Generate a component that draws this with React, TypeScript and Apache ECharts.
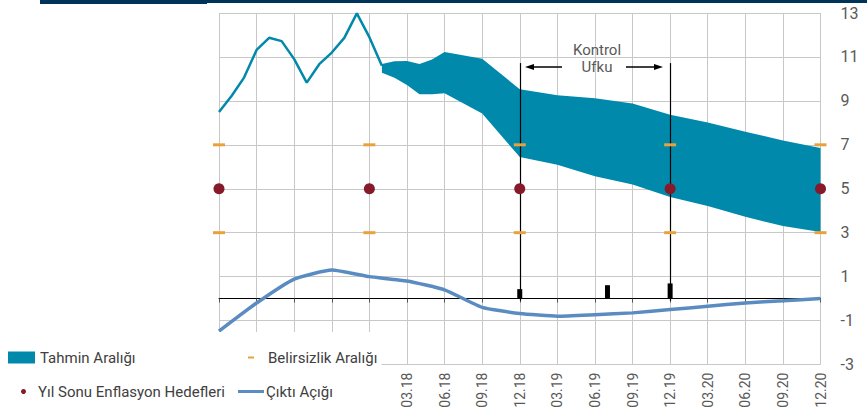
import React, { useEffect, useRef } from 'react';
import * as echarts from 'echarts';

const months = [
  '12.16',
  '01.17', '02.17', '03.17', '04.17', '05.17', '06.17', '07.17', '08.17', '09.17', '10.17', '11.17', '12.17',
  '01.18', '02.18', '03.18', '04.18', '05.18', '06.18', '07.18', '08.18', '09.18', '10.18', '11.18', '12.18',
  '01.19', '02.19', '03.19', '04.19', '05.19', '06.19', '07.19', '08.19', '09.19', '10.19', '11.19', '12.19',
  '01.20', '02.20', '03.20', '04.20', '05.20', '06.20', '07.20', '08.20', '09.20', '10.20', '11.20', '12.20',
];

// Monthly realised inflation, 12.16 .. 01.18
const inflationActual = [8.49, 9.22, 10.06, 11.32, 11.87, 11.72, 10.9, 9.83, 10.67, 11.2, 11.87, 12.98, 11.9, 10.6];

// Forecast band
const bandMonths = ['01.18', '02.18', '03.18', '04.18', '05.18', '06.18', '09.18', '12.18', '03.19', '06.19', '09.19', '12.19', '03.20', '06.20', '09.20', '12.20'];
const bandHigh = [10.68, 10.8, 10.82, 10.68, 10.88, 11.23, 10.92, 9.53, 9.26, 9.12, 8.88, 8.37, 8.02, 7.6, 7.2, 6.85];
const bandLow = [10.28, 10.05, 9.72, 9.3, 9.3, 9.35, 8.43, 6.44, 6.09, 5.57, 5.19, 4.62, 4.21, 3.72, 3.3, 3.03];

// Output gap, quarterly
const gapMonths = ['12.16', '03.17', '06.17', '09.17', '12.17', '03.18', '06.18', '09.18', '12.18', '03.19', '06.19', '09.19', '12.19', '03.20', '06.20', '09.20', '12.20'];
const outputGap = [-1.48, -0.2, 0.89, 1.3, 1.0, 0.8, 0.4, -0.4, -0.68, -0.8, -0.73, -0.65, -0.5, -0.35, -0.2, -0.1, 0.0];

// Year-end targets and uncertainty band
const targetMonths = ['12.16', '12.17', '12.18', '12.19', '12.20'];
const targetValues = [5, 5, 5, 5, 5];
const uncertaintyHigh = [7, 7, 7, 7, 7];
const uncertaintyLow = [3, 3, 3, 3, 3];

// Small black marks
const markMonths = ['12.18', '07.19', '12.19'];
const markValues = [0.43, 0.61, 0.69];

// Control horizon
const horizonMonths = ['12.18', '12.19'];
const horizonTop = 10.72;

const yTicks = { min: -3, max: 13, interval: 2 };

const TEAL = '#0089AB';
const GAP_BLUE = '#5B8CC1';
const TARGET_RED = '#861A2A';
const ORANGE = '#E9A23B';
const GRID = '#C8C8C8';
const TEXT = '#404040';
const AXIS_TEXT = '#595959';
const FONT = 'Roboto';

export default function App() {
  const ref = useRef<HTMLDivElement>(null);
  useEffect(() => {
    if (!ref.current) return;
    const chart = echarts.init(ref.current, undefined, { renderer: 'svg' });
    const quarterly = (i: number) => i % 3 === 0;
    const legendBase = {
      orient: 'horizontal',
      padding: 0,
      z: 10,
      selectedMode: false,
      textStyle: { fontFamily: FONT, fontSize: 15, color: TEXT },
    };
    const option: any = {
      animation: false,
      grid: { left: 219, right: 46.5, top: 13, bottom: 45.5, containLabel: false, outerBoundsMode: 'none' },
      xAxis: [
        {
          type: 'category',
          data: months,
          boundaryGap: false,
          position: 'bottom',
          axisLine: { show: false, onZero: false },
          axisTick: { show: false },
          axisLabel: {
            rotate: 90,
            margin: 8,
            fontFamily: FONT,
            fontSize: 14,
            color: AXIS_TEXT,
            interval: (i: number) => i % 3 === 0 && i >= 15,
          },
          splitLine: { show: true, interval: quarterly, lineStyle: { color: GRID, width: 1 } },
        },
        {
          type: 'category',
          data: months,
          boundaryGap: false,
          position: 'bottom',
          axisLine: { show: true, onZero: true, lineStyle: { color: '#000', width: 1 } },
          axisTick: { show: true, interval: quarterly, length: 4, lineStyle: { color: '#555' } },
          axisLabel: { show: false },
          splitLine: { show: false },
        },
      ],
      yAxis: {
        type: 'value',
        position: 'right',
        min: yTicks.min,
        max: yTicks.max,
        interval: yTicks.interval,
        axisLine: { show: false },
        axisTick: { show: false },
        axisLabel: { margin: 20, fontFamily: FONT, fontSize: 16, color: AXIS_TEXT },
        splitLine: { lineStyle: { color: GRID, width: 1 } },
      },
      legend: [
        {
          ...legendBase,
          left: 8,
          top: 350,
          data: ['Tahmin Aralığı'],
          icon: 'rect',
          itemWidth: 27,
          itemHeight: 12,
        },
        {
          ...legendBase,
          left: 248,
          top: 350,
          data: ['Belirsizlik Aralığı'],
          icon: 'rect',
          itemWidth: 6,
          itemHeight: 2,
          textStyle: { ...legendBase.textStyle, padding: [0, 0, 0, 9] },
        },
        {
          ...legendBase,
          left: 21,
          top: 384,
          data: ['Yıl Sonu Enflasyon Hedefleri'],
          icon: 'circle',
          itemWidth: 5,
          itemHeight: 5,
          textStyle: { ...legendBase.textStyle, padding: [0, 0, 0, 7] },
        },
        {
          ...legendBase,
          left: 238,
          top: 384,
          data: ['Çıktı Açığı'],
          icon: 'rect',
          itemWidth: 26,
          itemHeight: 3,
          textStyle: { ...legendBase.textStyle, padding: [0, 0, 0, -3] },
        },
      ],
      graphic: [
        { type: 'rect', z: 8, shape: { x: 0, y: 332, width: 381.5, height: 78 }, style: { fill: '#fff' }, silent: true },
        { type: 'rect', z: 20, shape: { x: 40, y: 0, width: 167, height: 4 }, style: { fill: '#003359' }, silent: true },
        { type: 'rect', z: 20, shape: { x: 207, y: 0, width: 660, height: 3 }, style: { fill: '#003359' }, silent: true },
        {
          type: 'text', z: 20, x: 597, y: 50,
          style: { text: 'Kontrol', fontFamily: FONT, fontSize: 15, fill: AXIS_TEXT, align: 'center', verticalAlign: 'middle' },
        },
        {
          type: 'text', z: 20, x: 597, y: 67,
          style: { text: 'Ufku', fontFamily: FONT, fontSize: 15, fill: AXIS_TEXT, align: 'center', verticalAlign: 'middle' },
        },
        { type: 'line', z: 20, shape: { x1: 562, y1: 67, x2: 532, y2: 67 }, style: { stroke: '#000', lineWidth: 1.5 } },
        { type: 'polygon', z: 20, shape: { points: [[525, 67], [534, 64], [534, 70]] }, style: { fill: '#000' } },
        { type: 'line', z: 20, shape: { x1: 626, y1: 67, x2: 656, y2: 67 }, style: { stroke: '#000', lineWidth: 1.5 } },
        { type: 'polygon', z: 20, shape: { points: [[663, 67], [654, 64], [654, 70]] }, style: { fill: '#000' } },
      ],
      series: [
        {
          name: 'Enflasyon',
          type: 'line',
          data: inflationActual,
          symbol: 'none',
          lineStyle: { color: TEAL, width: 2.5 },
          z: 2,
        },
        {
          name: 'Tahmin Aralığı',
          type: 'custom',
          itemStyle: { color: TEAL },
          data: bandMonths.map((m, i) => [months.indexOf(m), bandLow[i], bandHigh[i]]),
          encode: { x: 0, y: [1, 2] },
          renderItem: (params: any, api: any) => {
            if (params.dataIndex !== 0) return null;
            const top = bandMonths.map((m, i) => api.coord([months.indexOf(m), bandHigh[i]]));
            const bot = bandMonths.map((m, i) => api.coord([months.indexOf(m), bandLow[i]])).reverse();
            return { type: 'polygon', shape: { points: top.concat(bot) }, style: { fill: TEAL } };
          },
          z: 3,
        },
        {
          name: 'Çıktı Açığı',
          type: 'line',
          data: gapMonths.map((m, i) => [m, outputGap[i]]),
          symbol: 'none',
          smooth: 0.15,
          lineStyle: { color: GAP_BLUE, width: 3.5 },
          itemStyle: { color: GAP_BLUE },
          z: 4,
        },
        {
          name: 'Belirsizlik Aralığı',
          type: 'scatter',
          data: [
            ...targetMonths.map((m, i) => [m, uncertaintyHigh[i]]),
            ...targetMonths.map((m, i) => [m, uncertaintyLow[i]]),
          ],
          symbol: 'rect',
          symbolSize: [12, 3],
          itemStyle: { color: ORANGE, opacity: 1 },
          z: 5,
        },
        {
          name: 'Yıl Sonu Enflasyon Hedefleri',
          type: 'scatter',
          data: targetMonths.map((m, i) => [m, targetValues[i]]),
          symbol: 'circle',
          symbolSize: 11,
          itemStyle: { color: TARGET_RED, opacity: 1 },
          z: 6,
        },
        {
          name: 'marks',
          type: 'bar',
          data: markMonths.map((m, i) => [m, markValues[i]]),
          barWidth: 5,
          itemStyle: { color: '#000' },
          z: 6,
          markLine: {
            silent: true,
            symbol: 'none',
            label: { show: false },
            lineStyle: { color: '#000', width: 1.2, type: 'solid' },
            data: horizonMonths.map((m) => [{ coord: [m, horizonTop] }, { coord: [m, -0.1] }]),
          },
        },
      ],
    };
    chart.setOption(option);
    return () => chart.dispose();
  }, []);
  return <div ref={ref} style={{ position: 'fixed', left: 0, top: 0, width: 867, height: 410, background: '#fff' }} />;
}
